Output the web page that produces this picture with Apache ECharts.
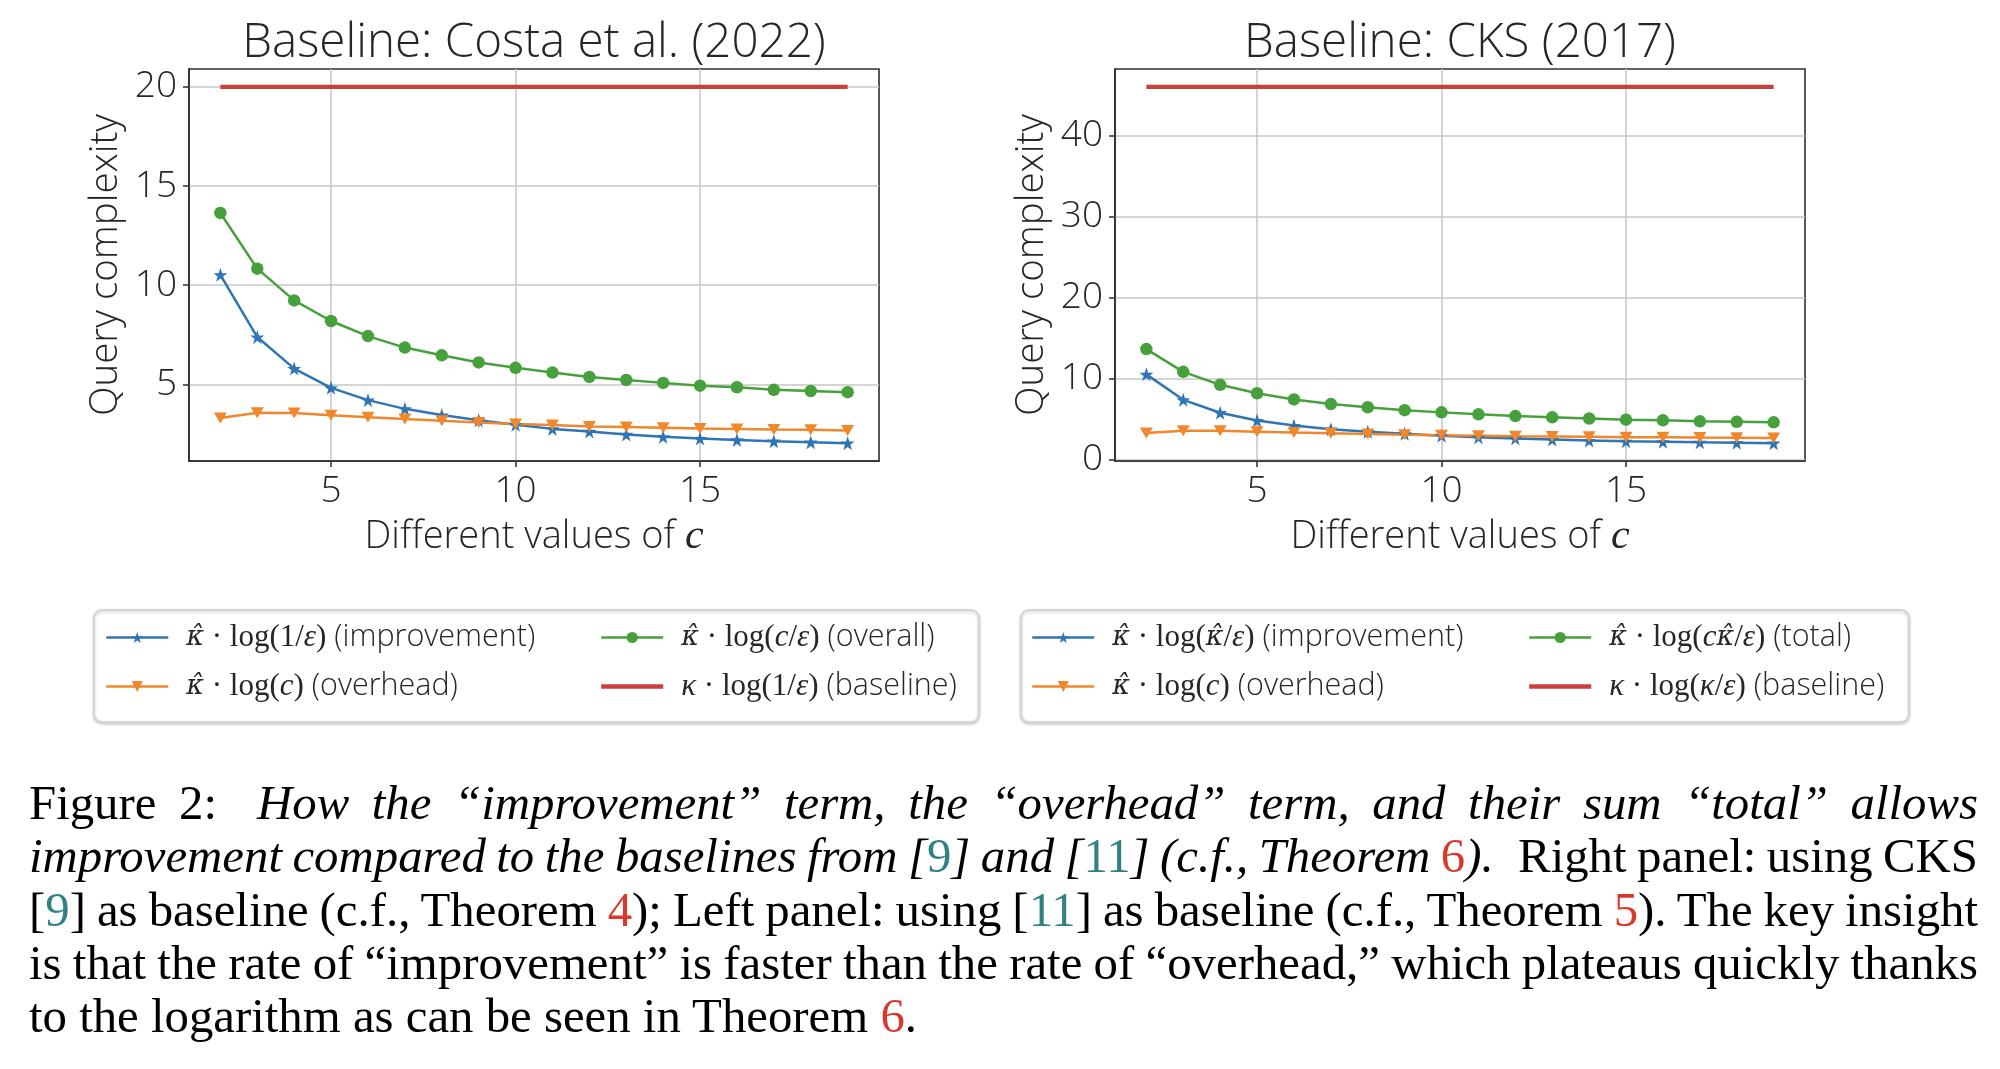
<!DOCTYPE html>
<html>
<head>
<meta charset="utf-8">
<script src="https://cdn.jsdelivr.net/npm/echarts@6/dist/echarts.min.js"></script>
<style>
html,body{margin:0;padding:0;background:#fff;}
#chart{position:absolute;left:0;top:0;width:2000px;height:1069px;}
#caption{position:absolute;left:29px;top:777px;width:1949px;font-family:'Liberation Serif','Times New Roman',serif;font-size:48.8px;line-height:53.3px;color:#000;}
.ln{white-space:nowrap;text-align:justify;text-align-last:justify;}
.ln.last{text-align-last:left;}
.teal{color:#2e8282;font-style:normal;}
.red{color:#d9382c;font-style:normal;}
.gap{display:inline-block;width:40px;}
</style>
</head>
<body>
<div id="chart"></div>
<div id="caption">
<div class="ln">Figure 2:<span class="gap"></span><i>How the “improvement” term, the “overhead” term, and their sum “total” allows</i></div>
<div class="ln"><i>improvement compared to the baselines from [<span class="teal">9</span>] and [<span class="teal">11</span>] (c.f., Theorem <span class="red">6</span>).</i>&ensp;Right panel: using CKS</div>
<div class="ln">[<span class="teal">9</span>] as baseline (c.f., Theorem <span class="red">4</span>); Left panel: using [<span class="teal">11</span>] as baseline (c.f., Theorem <span class="red">5</span>). The key insight</div>
<div class="ln">is that the rate of “improvement” is faster than the rate of “overhead,” which plateaus quickly thanks</div>
<div class="ln last">to the logarithm as can be seen in Theorem <span class="red">6</span>.</div>
</div>
<script>
// ---------- data ----------
const cValues = [2, 3, 4, 5, 6, 7, 8, 9, 10, 11, 12, 13, 14, 15, 16, 17, 18, 19];
const improvement = [10.52, 7.38, 5.79, 4.82, 4.20, 3.76, 3.45, 3.19, 2.96, 2.75, 2.62, 2.47, 2.35, 2.26, 2.19, 2.13, 2.08, 2.03];
const overhead = [3.30, 3.56, 3.55, 3.44, 3.34, 3.25, 3.16, 3.07, 3.00, 2.94, 2.87, 2.84, 2.81, 2.77, 2.75, 2.72, 2.70, 2.67];
const overall = [13.64, 10.83, 9.23, 8.19, 7.43, 6.85, 6.46, 6.10, 5.83, 5.59, 5.37, 5.22, 5.07, 4.93, 4.85, 4.72, 4.66, 4.60];
const baselineCosta = [20, 20, 20, 20, 20, 20, 20, 20, 20, 20, 20, 20, 20, 20, 20, 20, 20, 20];
const baselineCKS = [46, 46, 46, 46, 46, 46, 46, 46, 46, 46, 46, 46, 46, 46, 46, 46, 46, 46];
const xTicks = [5, 10, 15];
const yTicksLeft = [5, 10, 15, 20];
const yTicksRight = [0, 10, 20, 30, 40];
const panelTitles = ['Baseline: Costa et al. (2022)', 'Baseline: CKS (2017)'];

// ---------- caption fit (only shrink word spacing if a line overflows) ----------
document.querySelectorAll('#caption .ln').forEach(el => {
  const over = el.scrollWidth - el.clientWidth;
  if (over > 0) {
    const spaces = (el.textContent.match(/ /g) || []).length || 1;
    el.style.wordSpacing = (-(over / spaces) - 0.5) + 'px';
  }
});

// ---------- styles ----------
const C_BLUE = '#2f75b5', C_ORANGE = '#f0872c', C_GREEN = '#46a03b', C_RED = '#c93f3c';
const TXT = '#262626', SPINE = '#2e2e2e', GRID = '#c6c6c6';
const SANS = "'Open Sans', sans-serif";
const SERIF = "'Liberation Serif', 'DejaVu Serif', serif";
const HATF = "'DejaVu Serif', serif";
const STAR = 'path://M50,0 L61.8,35.1 L98.1,35.1 L68.7,56.8 L79.4,91.4 L50,70 L20.6,91.4 L31.3,56.8 L1.9,35.1 L38.2,35.1 Z';
const LW = 2.5, LW_BASE = 4.4;

const pairs = arr => cValues.map((c, i) => [c, arr[i]]);

const KH = 'κ\u0302';
const legendText = {
  'L-imp':  '{h|' + KH + '}{s| · }{r|log(1/}{i|ε}{r|)}{t| (improvement)}',
  'L-ovh':  '{h|' + KH + '}{s| · }{r|log(}{i|c}{r|)}{t| (overhead)}',
  'L-tot':  '{h|' + KH + '}{s| · }{r|log(}{i|c}{r|/}{i|ε}{r|)}{t| (overall)}',
  'L-base': '{k|κ}{s| · }{r|log(1/}{i|ε}{r|)}{t| (baseline)}',
  'R-imp':  '{h|' + KH + '}{s| · }{r|log(}{hi|' + KH + '}{r|/}{i|ε}{r|)}{t| (improvement)}',
  'R-ovh':  '{h|' + KH + '}{s| · }{r|log(}{i|c}{r|)}{t| (overhead)}',
  'R-tot':  '{h|' + KH + '}{s| · }{r|log(}{i|c}{hi|' + KH + '}{r|/}{i|ε}{r|)}{t| (total)}',
  'R-base': '{k|κ}{s| · }{r|log(}{i|κ}{r|/}{i|ε}{r|)}{t| (baseline)}'
};
const richLegend = {
  h: {fontFamily: HATF, fontStyle: 'italic', fontSize: 27, color: TXT, lineHeight: 36, padding: [0, 0, 0, 13]},
  hi: {fontFamily: HATF, fontStyle: 'italic', fontSize: 27, color: TXT, lineHeight: 36},
  k: {fontFamily: SERIF, fontStyle: 'italic', fontSize: 31, color: TXT, lineHeight: 36, padding: [0, 0, 0, 13]},
  s: {fontFamily: SERIF, fontSize: 31, color: TXT, lineHeight: 36},
  r: {fontFamily: SERIF, fontSize: 31, color: TXT, lineHeight: 36},
  i: {fontFamily: SERIF, fontStyle: 'italic', fontSize: 31, color: TXT, lineHeight: 36},
  t: {fontFamily: SANS, fontWeight: 300, fontSize: 30.5, color: TXT, lineHeight: 36}
};
function legendComp(names, left) {
  return {
    data: names.map(n => (n.indexOf('base') >= 0
      ? {name: n, itemStyle: {opacity: 0}, lineStyle: {width: LW_BASE}}
      : {name: n, lineStyle: {width: LW}})),
    orient: 'vertical', left: left, top: 622, padding: 0,
    itemWidth: 62, itemHeight: 14, itemGap: 18, selectedMode: false,
    formatter: n => legendText[n],
    textStyle: {rich: richLegend, fontSize: 30, color: TXT}
  };
}

const grids = [
  {left: 189, top: 69, width: 690, height: 392},
  {left: 1115, top: 69, width: 690, height: 392}
];

function xAxisOpt(gi) {
  return {
    type: 'value', gridIndex: gi, min: 1.15, max: 19.85,
    splitNumber: 4, minInterval: 5, maxInterval: 5,
    axisLine: {show: true, onZero: false, lineStyle: {color: SPINE, width: 1.6}},
    axisTick: {show: true, length: 6, customValues: xTicks, lineStyle: {color: SPINE, width: 1.5}},
    axisLabel: {show: true, margin: 12, fontFamily: SANS, fontWeight: 300, fontSize: 37, color: TXT,
      customValues: xTicks,
      formatter: v => (Math.abs(v / 5 - Math.round(v / 5)) < 1e-6 ? String(Math.round(v)) : '')},
    splitLine: {show: true, lineStyle: {color: GRID, width: 1.5}},
    name: '{a|Different values of }{m|c}', nameLocation: 'middle', nameGap: 55,
    nameTextStyle: {rich: {
      a: {fontFamily: SANS, fontWeight: 300, fontSize: 38, color: TXT, lineHeight: 42},
      m: {fontFamily: SERIF, fontStyle: 'italic', fontSize: 42, color: TXT, lineHeight: 42}
    }}
  };
}
function yAxisOpt(gi, min, max, step, ticks) {
  return {
    type: 'value', gridIndex: gi, min: min, max: max,
    splitNumber: 4, minInterval: step, maxInterval: step,
    axisLine: {show: true, onZero: false, lineStyle: {color: SPINE, width: 1.6}},
    axisTick: {show: true, length: 6, customValues: ticks, lineStyle: {color: SPINE, width: 1.5}},
    axisLabel: {show: true, margin: 12, fontFamily: SANS, fontWeight: 300, fontSize: 37, color: TXT,
      customValues: ticks,
      formatter: v => (Math.abs(v / step - Math.round(v / step)) < 1e-6 ? String(Math.round(v)) : '')},
    splitLine: {show: true, lineStyle: {color: GRID, width: 1.5}},
    name: 'Query complexity', nameLocation: 'middle', nameGap: 63,
    nameTextStyle: {fontFamily: SANS, fontWeight: 300, fontSize: 38.5, color: TXT}
  };
}

function lineSeries(name, gi, data, color, symbol, size, rotate) {
  return {
    name: name, type: 'line', xAxisIndex: gi, yAxisIndex: gi, data: pairs(data),
    symbol: symbol, symbolSize: size, symbolRotate: rotate || 0, showSymbol: true,
    lineStyle: {color: color, width: LW}, itemStyle: {color: color, borderWidth: 0},
    emphasis: {disabled: true}, silent: true, animation: false
  };
}
function baseSeries(name, gi, data) {
  return {
    name: name, type: 'line', xAxisIndex: gi, yAxisIndex: gi, data: pairs(data),
    symbol: 'none', showSymbol: false,
    lineStyle: {color: C_RED, width: LW_BASE}, itemStyle: {color: C_RED},
    emphasis: {disabled: true}, silent: true, animation: false
  };
}

const series = [];
['L', 'R'].forEach((p, gi) => {
  series.push(lineSeries(p + '-imp', gi, improvement, C_BLUE, STAR, 14));
  series.push(lineSeries(p + '-ovh', gi, overhead, C_ORANGE, 'triangle', [13, 11], 180));
  series.push(lineSeries(p + '-tot', gi, overall, C_GREEN, 'circle', 12.5));
  series.push(baseSeries(p + '-base', gi, gi === 0 ? baselineCosta : baselineCKS));
});

const option = {
  animation: false,
  backgroundColor: '#fff',
  textStyle: {fontFamily: SANS},
  grid: grids.map(g => Object.assign({show: true, borderColor: SPINE, borderWidth: 1.6, backgroundColor: 'transparent'}, g)),
  xAxis: [xAxisOpt(0), xAxisOpt(1)],
  yAxis: [yAxisOpt(0, 1.13, 20.9, 5, yTicksLeft), yAxisOpt(1, -0.17, 48.2, 10, yTicksRight)],
  legend: [
    legendComp(['L-imp', 'L-ovh'], 105),
    legendComp(['L-tot', 'L-base'], 599),
    legendComp(['R-imp', 'R-ovh'], 1031),
    legendComp(['R-tot', 'R-base'], 1527)
  ],
  graphic: [
    {type: 'rect', z: -1, shape: {x: 94, y: 610, width: 885, height: 112, r: 8},
      style: {fill: '#fff', stroke: '#d4d4d4', lineWidth: 2, shadowColor: 'rgba(0,0,0,0.18)', shadowBlur: 3, shadowOffsetY: 1.5}},
    {type: 'rect', z: -1, shape: {x: 1021, y: 610, width: 888, height: 112, r: 8},
      style: {fill: '#fff', stroke: '#d4d4d4', lineWidth: 2, shadowColor: 'rgba(0,0,0,0.18)', shadowBlur: 3, shadowOffsetY: 1.5}},
    {type: 'text', x: 534, y: 43, style: {text: panelTitles[0], fontFamily: SANS, fontWeight: 300, fontSize: 47.5, fill: TXT, align: 'center', verticalAlign: 'middle'}},
    {type: 'text', x: 1460, y: 43, style: {text: panelTitles[1], fontFamily: SANS, fontWeight: 300, fontSize: 47.5, fill: TXT, align: 'center', verticalAlign: 'middle'}}
  ],
  series: series
};

const chart = echarts.init(document.getElementById('chart'), null, {renderer: 'canvas', width: 2000, height: 1069});
chart.setOption(option);
</script>
</body>
</html>
